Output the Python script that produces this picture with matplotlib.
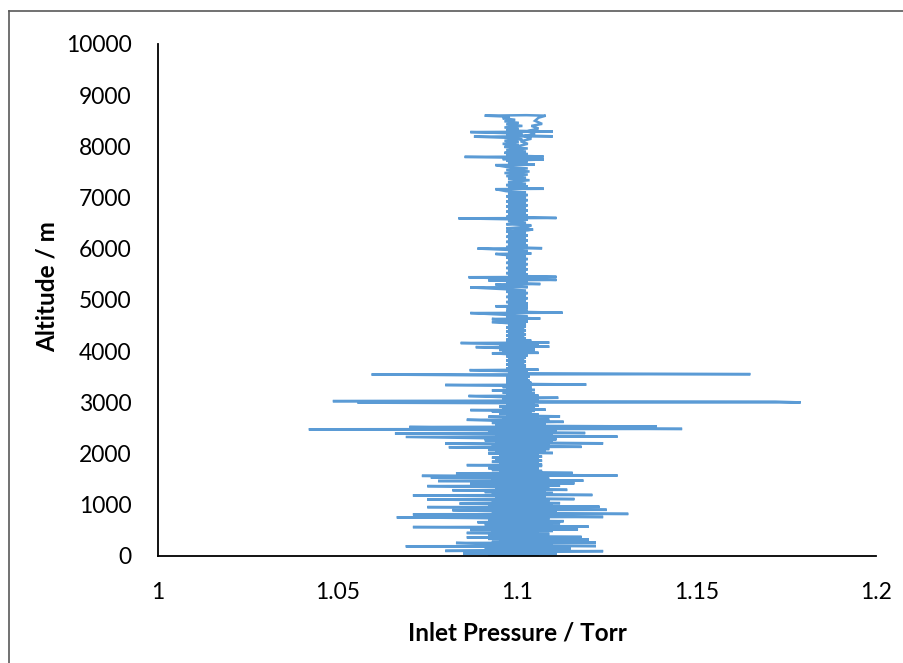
import matplotlib
matplotlib.use("Agg")
import matplotlib.pyplot as plt
from matplotlib.lines import Line2D

# ---- data (altitude in m, inlet pressure in Torr) ----
alt_low = [0, 10, 25, 40, 50, 65, 80, 95, 100, 115,
           130, 145, 160, 175, 190, 195, 210, 225, 240, 255,
           262, 275, 290, 305, 320, 335, 350, 365, 372, 385,
           400, 415, 430, 450, 455, 470, 490, 510, 520, 535,
           550, 565, 572, 590, 605, 620, 640, 660, 680, 700,
           720, 740, 755, 762, 780, 800, 815, 822, 840, 860,
           880, 895, 902, 920, 940, 955, 962, 980, 1000, 1025,
           1032, 1050, 1070, 1090, 1105, 1112, 1130, 1150, 1170, 1185,
           1192, 1210, 1230, 1250, 1270, 1285, 1292, 1310, 1330, 1350,
           1365, 1372, 1390, 1410, 1420, 1440, 1455, 1465, 1472, 1490,
           1510, 1530, 1545, 1565, 1572, 1590, 1605, 1615, 1622, 1640,
           1660, 1680, 1700, 1715, 1725, 1740, 1760, 1775, 1782, 1800,
           1820, 1840, 1860, 1880, 1900, 1920, 1940, 1960, 1980, 2005,
           2012, 2030, 2050, 2070, 2090, 2110, 2125, 2132, 2150, 2170,
           2195, 2202, 2220, 2240, 2260, 2280, 2300, 2325, 2332, 2350,
           2370, 2395, 2402, 2420, 2440, 2460, 2475, 2482, 2500, 2520,
           2530, 2545]
p_low = [1.100, 1.106, 1.092, 1.111, 1.085, 1.108, 1.093, 1.124, 1.080, 1.107,
         1.091, 1.115, 1.094, 1.109, 1.069, 1.122, 1.096, 1.110, 1.090, 1.083,
         1.122, 1.093, 1.108, 1.095, 1.120, 1.092, 1.110, 1.086, 1.118, 1.094,
         1.107, 1.092, 1.109, 1.086, 1.106, 1.093, 1.110, 1.087, 1.117, 1.094,
         1.108, 1.071, 1.120, 1.093, 1.110, 1.091, 1.112, 1.089, 1.113, 1.092,
         1.109, 1.090, 1.0665, 1.124, 1.094, 1.110, 1.071, 1.131, 1.093, 1.111,
         1.091, 1.082, 1.125, 1.094, 1.109, 1.075, 1.123, 1.092, 1.110, 1.084,
         1.112, 1.093, 1.109, 1.091, 1.075, 1.116, 1.094, 1.108, 1.092, 1.071,
         1.121, 1.093, 1.110, 1.091, 1.108, 1.082, 1.114, 1.094, 1.109, 1.092,
         1.075, 1.112, 1.093, 1.087, 1.116, 1.095, 1.108, 1.078, 1.1185, 1.093,
         1.109, 1.076, 1.107, 1.0735, 1.128, 1.094, 1.108, 1.083, 1.1155, 1.095,
         1.107, 1.093, 1.106, 1.092, 1.106, 1.094, 1.107, 1.086, 1.107, 1.095,
         1.106, 1.093, 1.107, 1.094, 1.106, 1.093, 1.107, 1.095, 1.106, 1.092,
         1.110, 1.094, 1.108, 1.092, 1.109, 1.095, 1.081, 1.118, 1.093, 1.109,
         1.080, 1.124, 1.094, 1.110, 1.091, 1.111, 1.093, 1.069, 1.128, 1.094,
         1.110, 1.066, 1.119, 1.092, 1.111, 1.090, 1.042, 1.146, 1.093, 1.070,
         1.139, 1.095]

alt_mid = [2560, 2580, 2600, 2620, 2640, 2660, 2665, 2680, 2700, 2720,
           2728, 2745, 2765, 2785, 2805, 2820, 2835, 2850, 2857, 2875,
           2895, 2915, 2935, 2955, 2975, 2985, 2995, 3000, 3015, 3025,
           3035, 3050, 3070, 3090, 3105, 3125, 3132, 3150, 3170, 3190,
           3210, 3235, 3242, 3260, 3280, 3300, 3320, 3340, 3348, 3365,
           3385, 3405, 3425, 3445, 3465, 3485, 3505, 3525, 3545, 3552,
           3570, 3590, 3610, 3630, 3640, 3660, 3680, 3700, 3720, 3740,
           3760, 3780, 3800, 3820, 3840, 3860, 3880, 3900, 3920, 3945,
           3960, 3968, 3985, 4005, 4025, 4045, 4065, 4080, 4088, 4105,
           4125, 4145, 4160, 4168, 4185, 4205, 4225, 4245, 4265, 4285,
           4305, 4325, 4345, 4365, 4385, 4405, 4425, 4445, 4465, 4485]
p_mid = [1.094, 1.108, 1.093, 1.113, 1.095, 1.086, 1.109, 1.096, 1.106, 1.092,
         1.112, 1.097, 1.106, 1.095, 1.104, 1.093, 1.105, 1.087, 1.108, 1.096,
         1.105, 1.095, 1.106, 1.097, 1.105, 1.097, 1.0556, 1.179, 1.172, 1.0487,
         1.100, 1.106, 1.096, 1.1115, 1.095, 1.0865, 1.106, 1.097, 1.105, 1.096,
         1.104, 1.093, 1.105, 1.097, 1.104, 1.096, 1.104, 1.080, 1.1193, 1.097,
         1.104, 1.097, 1.1035, 1.097, 1.103, 1.097, 1.1035, 1.097, 1.0595, 1.165,
         1.0975, 1.103, 1.097, 1.0868, 1.106, 1.097, 1.1025, 1.0975, 1.1025, 1.097,
         1.102, 1.0975, 1.1025, 1.097, 1.102, 1.0975, 1.1025, 1.097, 1.103, 1.097,
         1.093, 1.106, 1.096, 1.105, 1.095, 1.105, 1.094, 1.0885, 1.109, 1.095,
         1.106, 1.094, 1.0843, 1.109, 1.097, 1.104, 1.097, 1.1025, 1.0975, 1.102,
         1.097, 1.1025, 1.0975, 1.102, 1.097, 1.1025, 1.0975, 1.102, 1.097, 1.1025]

alt_high = [4505, 4530, 4550, 4570, 4580, 4605, 4630, 4638, 4660, 4685,
            4710, 4745, 4752, 4775, 4800, 4825, 4850, 4878, 4885, 4910,
            4935, 4960, 4985, 5010, 5035, 5060, 5085, 5110, 5135, 5160,
            5185, 5210, 5245, 5252, 5275, 5305, 5312, 5335, 5360, 5385,
            5392, 5420, 5445, 5452, 5475, 5500, 5525, 5550, 5575, 5600,
            5625, 5650, 5675, 5700, 5725, 5750, 5775, 5800, 5825, 5850,
            5875, 5900, 5908, 5930, 5955, 5980, 6005, 6012, 6035, 6060,
            6085, 6110, 6135, 6160, 6185, 6210, 6235, 6260, 6285, 6310,
            6335, 6360, 6380, 6400, 6430, 6460, 6480, 6510, 6540, 6570,
            6595, 6602, 6625, 6650, 6675, 6700, 6725, 6750, 6775, 6800,
            6825, 6850, 6875, 6900, 6925, 6950, 6975, 7000, 7025, 7050,
            7075, 7100, 7125, 7165, 7172, 7195, 7220, 7245, 7270, 7300,
            7340, 7365, 7390, 7420, 7450, 7480, 7510, 7540, 7570, 7600,
            7635, 7642, 7665, 7690, 7720, 7745, 7752, 7775, 7795, 7802,
            7825, 7850, 7875, 7900, 7930, 7960, 7990, 8020, 8050, 8080,
            8110, 8140, 8170, 8190, 8198, 8220, 8250, 8280, 8288, 8310,
            8340, 8370, 8400, 8430, 8460, 8490, 8520, 8550, 8580, 8600,
            8610, 8600]
p_high = [1.0975, 1.1025, 1.097, 1.093, 1.103, 1.097, 1.093, 1.1065, 1.097, 1.103,
          1.097, 1.087, 1.1127, 1.097, 1.103, 1.097, 1.103, 1.094, 1.103, 1.0975,
          1.103, 1.097, 1.1025, 1.0975, 1.103, 1.097, 1.1025, 1.0975, 1.103, 1.097,
          1.1025, 1.097, 1.087, 1.103, 1.097, 1.094, 1.1065, 1.097, 1.103, 1.092,
          1.111, 1.097, 1.0865, 1.111, 1.0975, 1.103, 1.097, 1.1025, 1.0975, 1.103,
          1.097, 1.1025, 1.0975, 1.103, 1.097, 1.1025, 1.0975, 1.103, 1.097, 1.1025,
          1.0975, 1.094, 1.104, 1.0975, 1.103, 1.097, 1.089, 1.107, 1.097, 1.103,
          1.0975, 1.1025, 1.097, 1.103, 1.0975, 1.1025, 1.097, 1.103, 1.0975, 1.1025,
          1.097, 1.103, 1.1045, 1.097, 1.103, 1.104, 1.097, 1.1025, 1.0975, 1.103,
          1.0837, 1.111, 1.097, 1.103, 1.0975, 1.1025, 1.097, 1.103, 1.0975, 1.1025,
          1.097, 1.103, 1.0975, 1.1025, 1.097, 1.103, 1.0975, 1.1025, 1.097, 1.103,
          1.0975, 1.1025, 1.097, 1.094, 1.1075, 1.0975, 1.103, 1.097, 1.1025, 1.0975,
          1.1035, 1.0975, 1.1025, 1.097, 1.103, 1.0965, 1.1035, 1.097, 1.103, 1.097,
          1.094, 1.105, 1.0975, 1.103, 1.097, 1.1075, 1.096, 1.1025, 1.0854, 1.1074,
          1.097, 1.103, 1.0965, 1.1025, 1.097, 1.103, 1.0965, 1.1005, 1.096, 1.1005,
          1.0965, 1.1015, 1.0965, 1.088, 1.110, 1.097, 1.1015, 1.087, 1.110, 1.097,
          1.1005, 1.0965, 1.1015, 1.097, 1.1005, 1.0965, 1.0995, 1.096, 1.098, 1.091,
          1.1026, 1.108]

alt_descent = [8560, 8500, 8440, 8400, 8350, 8300, 8250, 8200, 8150, 8100, 8050, 8000]
p_descent = [1.106, 1.105, 1.107, 1.104, 1.106, 1.103, 1.105, 1.102, 1.104, 1.101, 1.103, 1.100]

x_ticks = [1, 1.05, 1.1, 1.15, 1.2]
x_tick_labels = ["1", "1.05", "1.1", "1.15", "1.2"]
y_ticks = [0, 1000, 2000, 3000, 4000, 5000, 6000, 7000, 8000, 9000, 10000]

altitude = alt_low + alt_mid + alt_high + alt_descent
pressure = p_low + p_mid + p_high + p_descent

# ---- figure ----
plt.rcParams['font.family'] = ['Lato', 'DejaVu Sans']
fig = plt.figure(figsize=(9.04, 6.63), dpi=100)
ax = fig.add_axes([158 / 904, 1 - 556 / 663, (876 - 158) / 904, (556 - 44) / 663])

ax.plot(pressure, altitude, color='#5B9BD5', lw=1.8, solid_joinstyle='miter')

ax.set_xlim(1, 1.2)
ax.set_ylim(0, 10000)
ax.set_xticks(x_ticks)
ax.set_xticklabels(x_tick_labels)
ax.set_yticks(y_ticks)
ax.tick_params(axis='both', length=0, labelsize=16.5, colors='#000000')
ax.tick_params(axis='x', pad=19)
ax.tick_params(axis='y', pad=19)
for side in ['top', 'right']:
    ax.spines[side].set_visible(False)
for side in ['left', 'bottom']:
    ax.spines[side].set_color('#000000')
    ax.spines[side].set_linewidth(1.3)

ax.set_xlabel('Inlet Pressure / Torr', fontsize=17.5, fontweight='bold', labelpad=13)
ax.set_ylabel('Altitude / m', fontsize=17.5, fontweight='bold')
ax.yaxis.set_label_coords(-0.138, 0.527)

# outer chart border (top and left edges visible)
fig.add_artist(Line2D([9 / 904, 9 / 904], [0, 1 - 11 / 663], transform=fig.transFigure,
                      color='#595959', lw=1.2))
fig.add_artist(Line2D([9 / 904, 1], [1 - 11 / 663, 1 - 11 / 663], transform=fig.transFigure,
                      color='#595959', lw=1.2))

fig.savefig('out.png', dpi=100)
